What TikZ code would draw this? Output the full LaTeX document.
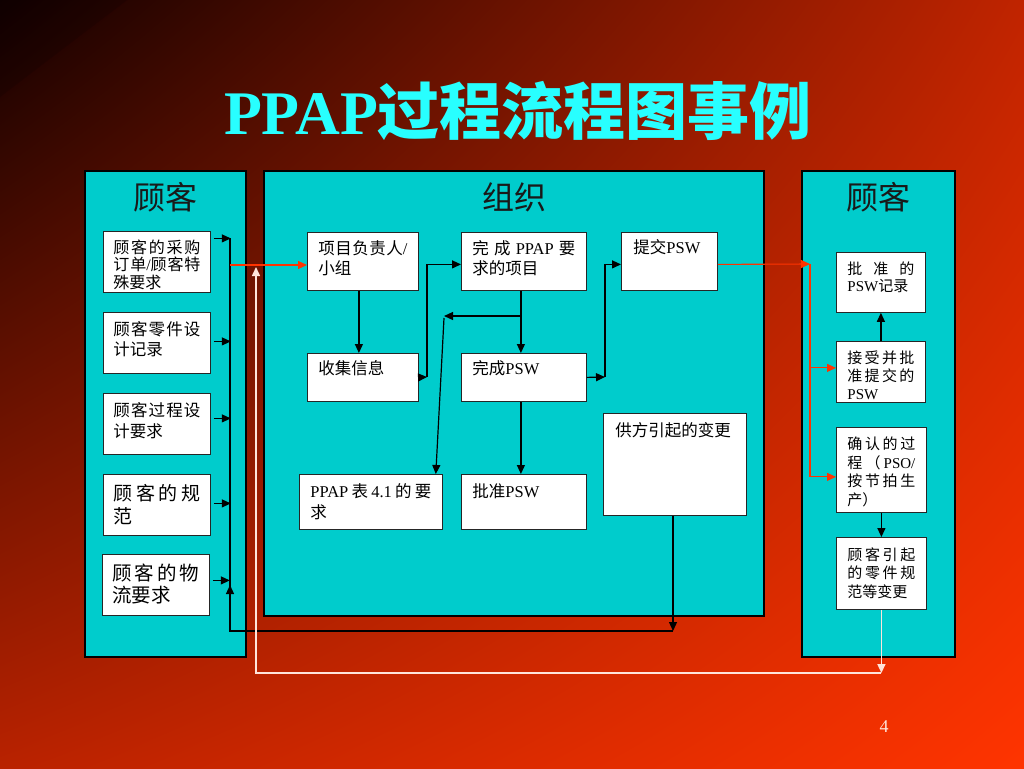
\documentclass[tikz,border=0pt]{standalone}
\usepackage{fontspec}
\setmainfont{Noto Sans CJK SC}
\newfontfamily\enfont{Liberation Serif}
\usetikzlibrary{arrows.meta,shadings}
\XeTeXlinebreaklocale "zh"
\XeTeXlinebreakskip=0pt plus 4pt
\definecolor{panelcyan}{RGB}{0,204,204}
\definecolor{titlecyan}{RGB}{40,255,255}
\definecolor{flowred}{RGB}{255,51,0}
\definecolor{backline}{RGB}{255,228,218}
\definecolor{bgUL}{RGB}{18,0,0}
\definecolor{bgUR}{RGB}{192,36,0}
\definecolor{bgLL}{RGB}{185,34,0}
\definecolor{bgLR}{RGB}{255,52,0}

\begin{document}
\begin{tikzpicture}[x=1pt,y=-1pt,
  >={Triangle[length=9pt,width=8pt]},
  panel/.style={draw=black,line width=1.2pt,fill=panelcyan},
  head/.style={font=\fontsize{32}{32}\selectfont,text=black!90},
  card/.style={draw=black!85,line width=0.8pt,fill=white,anchor=north west,
    align=justify,inner ysep=0pt},
  flow/.style={draw=black,line width=1.2pt},
  redflow/.style={draw=flowred,line width=1.1pt},
  backflow/.style={draw=backline,line width=1.5pt}]
\useasboundingbox (0,0) rectangle (1024,768);
\shade[upper left=bgUL,upper right=bgUR,lower left=bgLL,lower right=bgLR]
  (0,0) rectangle (1024,768);
\fill[black,opacity=0.15] (0,0) -- (127,0) -- (0,97) -- cycle;

\node[anchor=base,text=titlecyan,font=\fontsize{62}{62}\selectfont] (title) at (518,134)
  {{\enfont\bfseries PPAP}{\bfseries 过程流程图事例}};

% three panels
\draw[panel] (85,171) rectangle (246,657);
\draw[panel] (264,171) rectangle (764,616);
\draw[panel] (802,171) rectangle (955,657);
\node[head] (custin) at (165,197) {顾客};
\node[head] (org) at (514,197) {组织};
\node[head] (custout) at (878,197) {顾客};

% customer inputs
\node[card,text width=87pt,inner xsep=10pt,text height=22pt,text depth=39pt,
  font=\fontsize{16}{17.5}\selectfont] (po) at (103,231)
  {顾客的采购\linebreak 订单{\enfont /}顾客特\linebreak 殊要求};
\node[card,text width=87pt,inner xsep=10pt,text height=23pt,text depth=38pt,
  font=\fontsize{16.5}{20}\selectfont] (part) at (103,312)
  {顾客零件设\linebreak 计记录};
\node[card,text width=87pt,inner xsep=10pt,text height=23pt,text depth=38pt,
  font=\fontsize{16.5}{21}\selectfont] (proc) at (103,393)
  {顾客过程设\linebreak 计要求};
\node[card,text width=87pt,inner xsep=10pt,text height=26pt,text depth=35pt,
  font=\fontsize{19}{23}\selectfont] (spec) at (103,474)
  {顾客的规\linebreak 范};
\node[card,text width=87pt,inner xsep=10pt,text height=26pt,text depth=35pt,
  font=\fontsize{19.5}{22}\selectfont] (logi) at (102,554)
  {顾客的物\linebreak 流要求};

% organisation
\node[card,text width=89pt,inner xsep=11pt,text height=22pt,text depth=36pt,
  font=\fontsize{16.5}{20}\selectfont] (lead) at (307,232)
  {项目负责人{\enfont /}\linebreak 小组};
\node[card,text width=103pt,inner xsep=11pt,text height=22pt,text depth=36pt,
  font=\fontsize{16.5}{20}\selectfont] (req) at (461,232)
  {完\hfil 成\hfil{\enfont PPAP}\hfil 要\linebreak 求的项目};
\node[card,text width=72pt,inner xsep=12pt,text height=21pt,text depth=37pt,
  font=\fontsize{16.5}{20}\selectfont] (submit) at (621,232)
  {提交{\enfont PSW}};
\node[card,text width=89pt,inner xsep=11pt,text height=21pt,text depth=27pt,
  font=\fontsize{16.5}{20}\selectfont] (collect) at (307,353)
  {收集信息};
\node[card,text width=103pt,inner xsep=11pt,text height=21pt,text depth=27pt,
  font=\fontsize{16.5}{20}\selectfont] (psw) at (461,353)
  {完成{\enfont PSW}};
\node[card,text width=121pt,inner xsep=11pt,text height=23pt,text depth=32pt,
  font=\fontsize{16.5}{21}\selectfont] (table) at (299,474)
  {{\enfont PPAP}\hfil 表\hfil{\enfont 4.1}\hfil 的\hfil 要\linebreak 求};
\node[card,text width=103pt,inner xsep=11pt,text height=23pt,text depth=32pt,
  font=\fontsize{16.5}{21}\selectfont] (approve) at (461,474)
  {批准{\enfont PSW}};
\node[card,text width=119pt,inner xsep=12pt,text height=23pt,text depth=79pt,
  font=\fontsize{16.5}{20}\selectfont] (change) at (603,413)
  {供方引起的变更};

% customer outputs
\node[card,text width=67pt,inner xsep=11pt,text height=22pt,text depth=38pt,
  font=\fontsize{15}{17}\selectfont] (rec) at (836,252)
  {批准的\linebreak{\enfont PSW}记录};
\node[card,text width=67pt,inner xsep=11pt,text height=22pt,text depth=39pt,
  font=\fontsize{15}{18}\selectfont] (accept) at (836,341)
  {接受并批\linebreak 准提交的\linebreak{\enfont PSW}};
\node[card,text width=68pt,inner xsep=11pt,text height=22pt,text depth=63pt,
  font=\fontsize{15}{18.7}\selectfont] (confirm) at (836,427)
  {确认的过\linebreak 程\hfil（\hfil{\enfont PSO/}\linebreak 按节拍生\linebreak 产）};
\node[card,text width=68pt,inner xsep=11pt,text height=23pt,text depth=49pt,
  font=\fontsize{15}{18.5}\selectfont] (custchg) at (836,537)
  {顾客引起\linebreak 的零件规\linebreak 范等变更};

% bus on the left
\foreach \b/\s in {po/23.5,part/1.5,proc/5.5,spec/1.5,logi/4.5}
  \draw[flow,->] ([xshift=3pt,yshift=\s pt]\b.east) -- ++(17,0);
\coordinate (bustop) at (230,238);
\coordinate (busbot) at (230,631);
\coordinate (chgbot) at (673,631);
\draw[flow] (busbot) -- (bustop);
\draw[flow,->] (change.south -| chgbot) -- (chgbot);
\draw[flow,->] (chgbot) -- (busbot) -- (230,585);

% into the organisation
\coordinate (redstart) at (230,265);
\draw[redflow,->] (redstart) -- (lead.west |- redstart);
\draw[flow,->] ([xshift=-4pt]lead.south) -- ([xshift=-4pt]collect.north);
\coordinate (j1) at (427,377);
\draw[flow,->] (collect.east) -- (j1);
\draw[flow,->] (j1) |- ([yshift=-3pt]req.west);
\draw[flow,->] ([xshift=-3pt]req.south) -- ([xshift=-3pt]psw.north);
\coordinate (j2) at (520.5,316);
\coordinate (j3) at (444,316);
\draw[flow,->] (j2) -- (j3);
\draw[flow,->] ([yshift=-2pt]j3) -- ([xshift=-7pt]table.north east);
\draw[flow,->] ([xshift=-3pt]psw.south) -- ([xshift=-3pt]approve.north);
\coordinate (j4) at (605,377);
\draw[flow,->] (psw.east) -- (j4);
\draw[flow,->] (j4) |- ([yshift=-3pt]submit.west);

% out to the customer
\coordinate (j5) at (810,264);
\draw[redflow,->] ([yshift=-3pt]submit.east) -- (j5);
\draw[redflow,->] ([yshift=4pt]accept.west -| j5) -- ([yshift=4pt]accept.west);
\draw[redflow,->] (j5) |- ([yshift=-7pt]confirm.west);
\draw[flow,->] (accept.north) -- (rec.south);
\draw[flow,->] (confirm.south) -- (custchg.north);

% back loop
\coordinate (backturn) at (256,673);
\draw[backflow,->] (custchg.south) -- (custchg.south |- backturn);
\draw[backflow,->] (custchg.south |- backturn) -- (backturn) -- (256,267);

\node[text=backline,font=\enfont\fontsize{18}{18}\selectfont] (pageno) at (884,727) {4};
\end{tikzpicture}
\end{document}
